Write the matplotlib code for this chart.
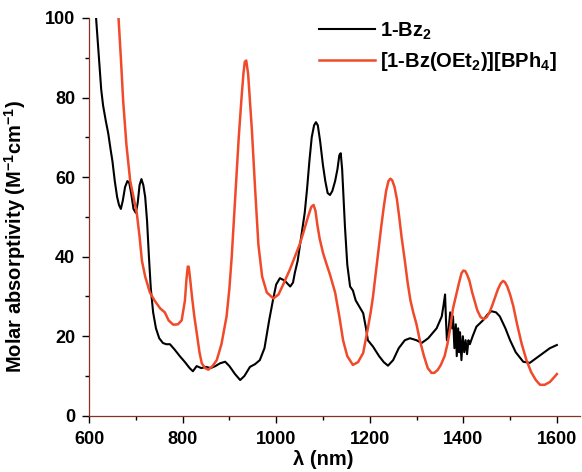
import matplotlib
matplotlib.use("Agg")
import matplotlib.pyplot as plt
from matplotlib.ticker import MultipleLocator

# 1-Bz2 spectrum (nm, M^-1 cm^-1)
bz2_wl = [615, 618, 622, 626, 630, 636, 641, 646, 650, 655, 660, 664, 668, 672, 677, 682,
          686, 690, 695, 700, 704, 708, 712, 716, 720, 724, 728, 732, 737, 743, 750, 758,
          765, 773, 784, 794, 805, 815, 822, 830, 840, 850, 860, 870, 880, 891, 900, 912,
          923, 932, 944, 955, 965, 975, 985, 993, 1000, 1008, 1018, 1030, 1036, 1040, 1046,
          1051, 1056, 1061, 1066, 1071, 1076, 1081, 1085, 1089, 1094, 1100, 1105, 1110,
          1115, 1120, 1126, 1131, 1135, 1138, 1141, 1144, 1147, 1152, 1158, 1164, 1170,
          1180, 1186, 1192, 1196, 1207, 1220, 1230, 1239, 1250, 1262, 1275, 1286, 1300,
          1311, 1325, 1343, 1354, 1358, 1361, 1363, 1365, 1368, 1372, 1376, 1378, 1381,
          1384, 1386, 1389, 1391, 1393, 1396, 1399, 1402, 1405, 1408, 1411, 1414, 1420,
          1428, 1442, 1452, 1460, 1470, 1478, 1490, 1500, 1512, 1528, 1542, 1556, 1571,
          1585, 1600]
bz2_eps = [100, 95, 88, 82, 78, 74, 71, 67, 64, 59, 55, 53, 52, 54, 57.5, 59,
           58.5, 56, 52, 51, 53.5, 58, 59.5, 58, 55, 49, 40, 32, 26, 22, 19.5, 18.3,
           18, 18, 16.5, 15, 13.5, 12, 11.2, 12.5, 12, 12.3, 12, 12.5, 13.2, 13.6, 12.5, 10.5,
           9, 10, 12.3, 13, 14, 17, 24, 29, 33, 34.6, 34, 32.5, 33.5, 36, 39,
           43, 47, 51, 57, 64, 70, 73, 73.8, 73, 69, 63, 59, 56,
           55.5, 56.5, 59, 62, 65.5, 66, 62, 55, 47.6, 38, 32.5, 31.5, 29,
           27, 25.8, 22, 19, 17.4, 15, 13.5, 12.6, 14, 17, 19, 19.5, 19,
           18.3, 19.5, 22, 25, 28, 30.5, 24, 19, 21, 26, 22, 25, 17,
           23, 15, 22, 16, 21, 14, 20, 16, 19, 15.5, 19, 18, 20,
           22.4, 24, 25.5, 26.3, 26, 25, 22, 19, 16, 13.6, 13.3, 14.5, 15.8,
           17, 17.8]

# [1-Bz(OEt2)][BPh4] spectrum
cat_wl = [663, 668, 673, 680, 688, 695, 702, 708, 713, 720, 730, 740, 752, 762, 770, 780,
          790, 798, 805, 808, 811, 813, 816, 820, 825, 830, 836, 841, 848, 855, 864, 873,
          883, 894, 900, 905, 910, 915, 920, 926, 930, 933, 936, 940, 944, 948, 955, 962,
          970, 980, 994, 1005, 1015, 1029, 1040, 1050, 1058, 1068, 1075, 1080, 1084, 1088,
          1093, 1100, 1108, 1115, 1126, 1135, 1143, 1152, 1164, 1175, 1186, 1196, 1202,
          1207, 1212, 1218, 1224, 1230, 1235, 1240, 1244, 1248, 1253, 1258, 1263, 1268,
          1275, 1281, 1287, 1293, 1300, 1307, 1316, 1324, 1332, 1338, 1345, 1352, 1360,
          1366, 1372, 1378, 1386, 1391, 1396, 1400, 1404, 1408, 1413, 1419, 1425, 1430,
          1437, 1444, 1450, 1456, 1462, 1468, 1474, 1480, 1485, 1489, 1494, 1500, 1507,
          1515, 1525, 1535, 1545, 1555, 1564, 1574, 1585, 1595, 1600]
cat_eps = [100, 90, 79, 68, 59, 55, 51, 45, 39, 35, 31, 29, 27, 26, 24, 22.9,
           23, 24, 29, 34, 37.5, 37.5, 34.5, 30, 25, 21, 16, 13.2, 12, 11.6, 12.5, 14,
           18, 25, 32, 40, 50, 60, 70, 80, 86, 89, 89.3, 86, 79, 72, 57, 43,
           35, 31, 29.5, 30.5, 33, 36.7, 40, 43, 46, 50, 52.5, 53, 51.5, 48,
           44.5, 41, 38, 35.5, 31, 25, 19, 15, 12.8, 13.5, 15.8, 22, 26,
           30, 35, 41, 47, 52.5, 56.5, 59, 59.6, 59.2, 57.5, 54.5, 50, 45,
           39, 33.5, 29, 26, 23, 19, 15, 12, 10.8, 10.8, 11.5, 12.8, 15,
           18, 22, 27, 31, 33.5, 35.8, 36.5, 36.4, 35.5, 34, 31, 28.5, 26.5,
           24.8, 24.3, 24.8, 26, 27.8, 29.8, 31.8, 33.3, 33.9, 33.6, 32.5, 30.5, 27.5,
           23, 18, 14, 11, 9, 7.8, 7.8, 8.5, 9.8, 10.5]

axis_col = '#8a3020'

plt.rcParams['font.family'] = ['Liberation Sans', 'DejaVu Sans']
plt.rcParams['font.weight'] = 'bold'
plt.rcParams['mathtext.fontset'] = 'custom'
plt.rcParams['mathtext.bf'] = 'Liberation Sans:bold'
plt.rcParams['mathtext.rm'] = 'Liberation Sans:bold'
plt.rcParams['mathtext.default'] = 'bf'

fig = plt.figure(figsize=(5.82, 4.72), dpi=100)
ax = fig.add_axes([0.153, 0.119, 0.844, 0.843])

ax.plot(bz2_wl, bz2_eps, color='black', lw=1.5, label='1-Bz$_2$')
ax.plot(cat_wl, cat_eps, color='#f04a2a', lw=1.8, label='[1-Bz(OEt$_2$)][BPh$_4$]')

ax.set_xlim(600, 1650)
ax.set_ylim(0, 100)
ax.set_xticks(range(600, 1601, 200))
ax.xaxis.set_minor_locator(MultipleLocator(100))
ax.yaxis.set_major_locator(MultipleLocator(20))
ax.yaxis.set_minor_locator(MultipleLocator(10))

for side in ['top', 'right']:
    ax.spines[side].set_visible(False)
for side in ['left', 'bottom']:
    ax.spines[side].set_color(axis_col)
    ax.spines[side].set_linewidth(0.9)

ax.tick_params(which='both', direction='out', colors='black', labelsize=13, width=1.0)
ax.tick_params(which='major', length=5)
ax.tick_params(which='minor', length=3)
ax.tick_params(axis='x', pad=6)
ax.tick_params(axis='y', pad=5)
for lab in ax.get_xticklabels() + ax.get_yticklabels():
    lab.set_fontweight('bold')

ax.set_xlabel('λ (nm)', fontsize=14.5, fontweight='bold', color='black')
ax.set_ylabel('Molar absorptivity (M$^{-1}$cm$^{-1}$)', fontsize=14.5,
              fontweight='bold', color='black')
ax.xaxis.set_label_coords(0.476, -0.085)
ax.yaxis.set_label_coords(-0.125, 0.45)

leg = ax.legend(loc='upper left', bbox_to_anchor=(0.53, 0.978),
                bbox_transform=fig.transFigure, frameon=False, borderpad=0,
                handlelength=2.8, fontsize=14.5, labelspacing=0.4, handletextpad=0.25)
for t in leg.get_texts():
    t.set_fontweight('bold')

fig.savefig('out.png', dpi=100)
